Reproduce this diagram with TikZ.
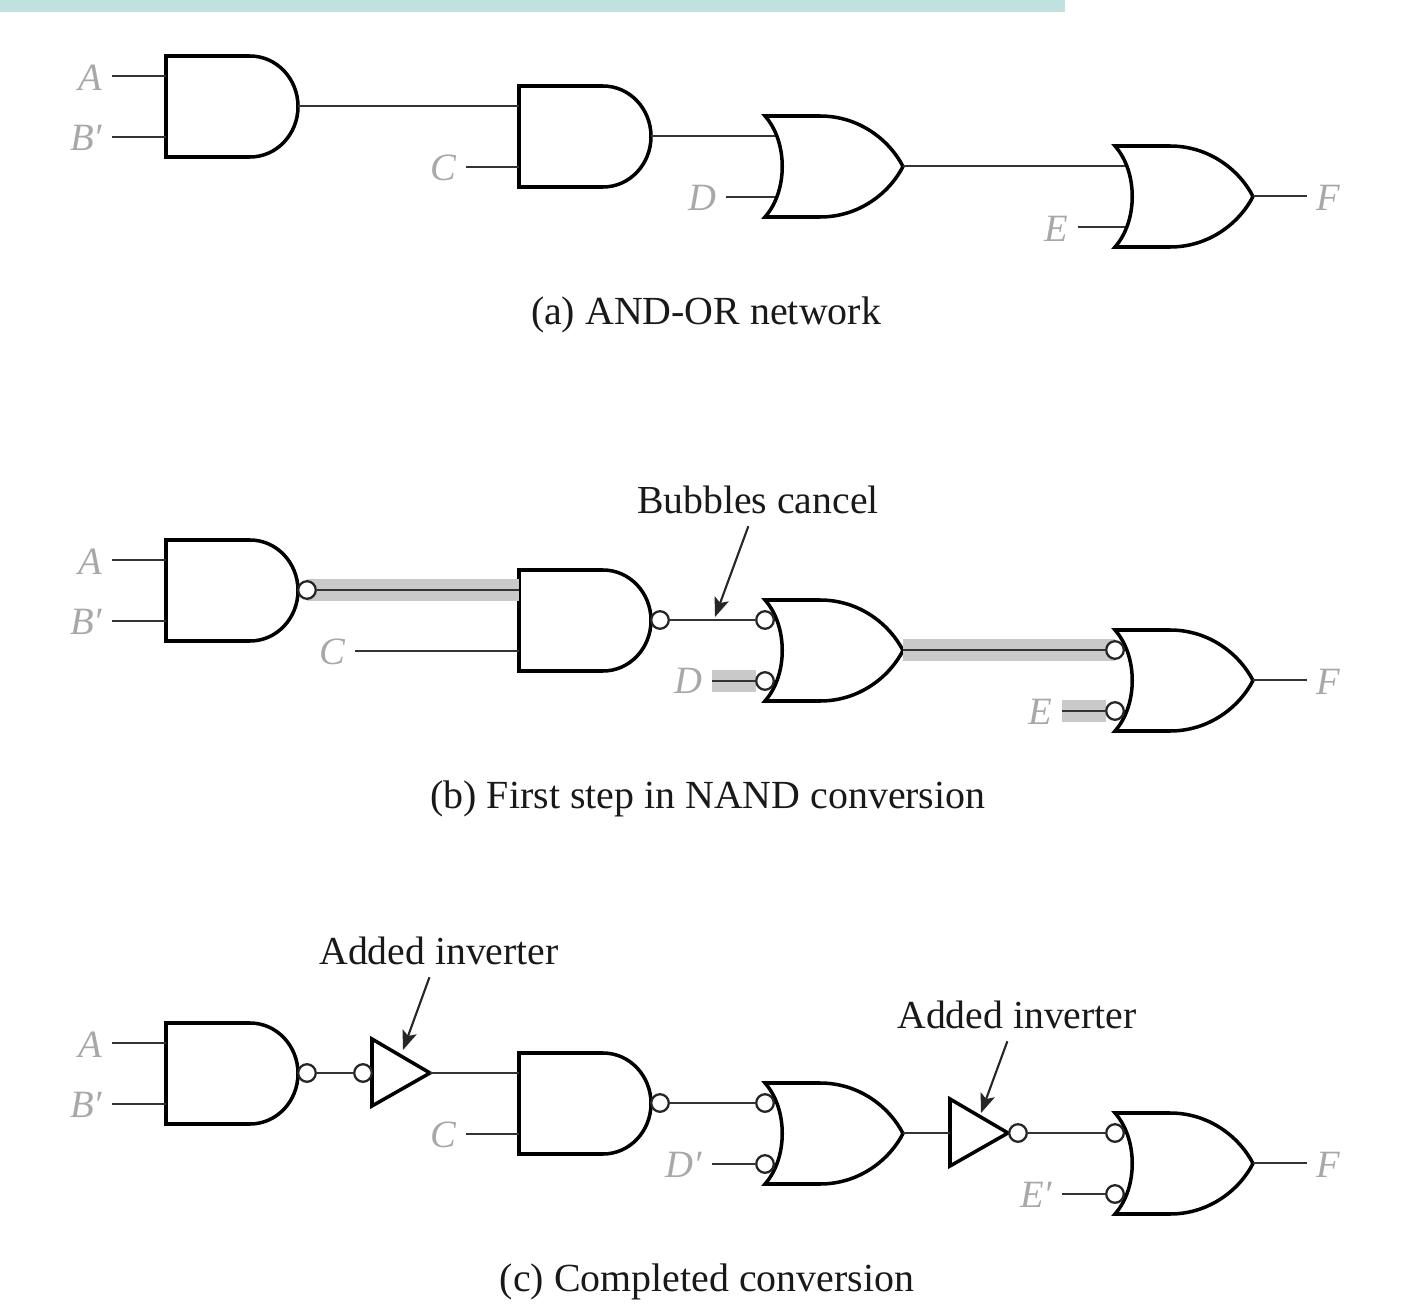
\documentclass[tikz,border=0pt]{standalone}
\usepackage{fontspec}
\setmainfont{Liberation Serif}
\usetikzlibrary{arrows.meta}
\definecolor{barcolor}{HTML}{C1E0E0}
\definecolor{sigcolor}{HTML}{A8A8A8}
\definecolor{bandcolor}{HTML}{C9C9C9}
\tikzset{
  gate/.style={line width=2pt,fill=white,draw=black},
  wire/.style={line width=1.7pt,draw=black!80},
  band/.style={line width=12.5pt,draw=bandcolor},
  bub/.style={circle,draw=black!85,fill=white,line width=1.3pt,minimum size=10pt,inner sep=0pt,outer sep=0pt},
  sig/.style={text=sigcolor,font=\fontsize{22}{26}\selectfont\itshape,inner xsep=5.5pt,inner ysep=2pt,outer sep=0pt},
  capt/.style={font=\fontsize{22.7}{26}\selectfont,text=black!90,inner sep=0pt},
  note/.style={font=\fontsize{22.6}{26}\selectfont,text=black!90,inner xsep=4pt,inner ysep=7pt,outer sep=0pt},
  pointer/.style={line width=1.2pt,draw=black!85,-{Stealth[length=11pt,width=8.5pt,inset=2.5pt]}},
  pics/andgate/.style={code={
    \draw[gate] (0,0) -- (84,0) .. controls (110.5,0) and (132,22.6) .. (132,50.5)
      .. controls (132,78.4) and (110.5,101) .. (84,101) -- (0,101) -- cycle;
    \coordinate (-a) at (0,20);
    \coordinate (-b) at (0,81);
    \coordinate (-out) at (132,50);
    \coordinate (-nout) at (141,50);
  }},
  pics/orgate/.style={code={
    \draw[gate] (0,0) -- (55,0) .. controls (95,0) and (125,25) .. (138,50.5)
      .. controls (125,76) and (95,101) .. (55,101) -- (0,101)
      .. controls (23,75) and (23,26) .. (0,0) -- cycle;
    \coordinate (-a) at (10,20);
    \coordinate (-b) at (10,81);
    \coordinate (-na) at (0,20);
    \coordinate (-nb) at (0,81);
    \coordinate (-out) at (138,50);
  }},
  pics/invgate/.style={code={
    \draw[gate] (0,0) -- (58,34) -- (0,67) -- cycle;
    \coordinate (-in) at (0,34);
    \coordinate (-out) at (58,34);
    \coordinate (-nin) at (-9,34);
    \coordinate (-nout) at (68,34);
  }}
}
\begin{document}
\begin{tikzpicture}[x=0.02cm,y=-0.02cm]
  \useasboundingbox (0,0) rectangle (1418,1308);
  \fill[barcolor] (0,0) rectangle (1065,12.5);

  \pic (a1) at (166,56) {andgate};
  \pic (a2) at (519,86) {andgate};
  \pic (a3) at (765,116) {orgate};
  \pic (a4) at (1115,146) {orgate};
  \node[sig,anchor=east] (aA) at (112,78) {A};
  \node[sig,anchor=east] (aB) at (112,138) {B′};
  \node[sig,anchor=east] (aC) at (466,168) {C};
  \node[sig,anchor=east] (aD) at (726,198) {D};
  \node[sig,anchor=east] (aE) at (1078,229) {E};
  \node[sig,anchor=west] (aF) at (1307,198) {F};
  \draw[wire] (aA.east |- a1-a) -- (a1-a);
  \draw[wire] (aB.east |- a1-b) -- (a1-b);
  \draw[wire] (a1-out) -- (a2-a);
  \draw[wire] (aC.east |- a2-b) -- (a2-b);
  \draw[wire] (a2-out) -- (a3-a);
  \draw[wire] (aD.east |- a3-b) -- (a3-b);
  \draw[wire] (a3-out) -- (a4-a);
  \draw[wire] (aE.east |- a4-b) -- (a4-b);
  \draw[wire] (a4-out) -- (aF.west |- a4-out);
  \node[capt] (acap) at (706,315) {(a) AND-OR network};

  \pic (b1) at (166,540) {andgate};
  \pic (b2) at (519,570) {andgate};
  \pic (b3) at (765,600) {orgate};
  \pic (b4) at (1115,630) {orgate};
  \node[sig,anchor=east] (bA) at (112,562) {A};
  \node[sig,anchor=east] (bB) at (112,622) {B′};
  \node[sig,anchor=east] (bC) at (355,652) {C};
  \node[sig,anchor=east] (bD) at (712,681) {D};
  \node[sig,anchor=east] (bE) at (1062,712) {E};
  \node[sig,anchor=west] (bF) at (1307,682) {F};
  \draw[band] (b1-nout) -- (b2-a);
  \draw[band] (b3-out) -- (b4-na);
  \draw[band,shorten >=5pt] (bD.east |- b3-nb) -- (b3-nb);
  \draw[band,shorten >=5pt] (bE.east |- b4-nb) -- (b4-nb);
  \node[bub] (bn1) at (b1-nout) {};
  \node[bub] (bn2) at (660,620) {};
  \node[bub] (bn3) at (b3-na) {};
  \node[bub] (bn4) at (b3-nb) {};
  \node[bub] (bn5) at (b4-na) {};
  \node[bub] (bn6) at (b4-nb) {};
  \draw[wire] (bA.east |- b1-a) -- (b1-a);
  \draw[wire] (bB.east |- b1-b) -- (b1-b);
  \draw[wire] (bn1) -- (b2-a);
  \draw[wire] (bC.east |- b2-b) -- (b2-b);
  \draw[wire] (bn2) -- (bn3);
  \draw[wire] (bD.east |- bn4) -- (bn4);
  \draw[wire] (b3-out) -- (bn5);
  \draw[wire] (bE.east |- bn6) -- (bn6);
  \draw[wire] (b4-out) -- (bF.west |- b4-out);
  \node[note] (bcancel) at (758,500) {Bubbles cancel};
  \coordinate (btip) at (715,617);
  \draw[pointer] (bcancel) -- (btip);
  \node[capt] (bcap) at (708,799) {(b) First step in NAND conversion};

  \pic (c1) at (166,1023) {andgate};
  \pic (c2) at (519,1053) {andgate};
  \pic (c3) at (765,1083) {orgate};
  \pic (c4) at (1115,1113) {orgate};
  \pic (i1) at (372,1039) {invgate};
  \pic (i2) at (950,1099) {invgate};
  \node[sig,anchor=east] (cA) at (112,1045) {A};
  \node[sig,anchor=east] (cB) at (112,1105) {B′};
  \node[sig,anchor=east] (cC) at (466,1135) {C};
  \node[sig,anchor=east] (cD) at (712,1165) {D′};
  \node[sig,anchor=east] (cE) at (1062,1195) {E′};
  \node[sig,anchor=west] (cF) at (1307,1165) {F};
  \node[bub] (cn1) at (c1-nout) {};
  \node[bub] (cn2) at (i1-nin) {};
  \node[bub] (cn3) at (660,1103) {};
  \node[bub] (cn4) at (c3-na) {};
  \node[bub] (cn5) at (c3-nb) {};
  \node[bub] (cn6) at (i2-nout) {};
  \node[bub] (cn7) at (c4-na) {};
  \node[bub] (cn8) at (c4-nb) {};
  \draw[wire] (cA.east |- c1-a) -- (c1-a);
  \draw[wire] (cB.east |- c1-b) -- (c1-b);
  \draw[wire] (cn1) -- (cn2);
  \draw[wire] (i1-out) -- (c2-a);
  \draw[wire] (cC.east |- c2-b) -- (c2-b);
  \draw[wire] (cn3) -- (cn4);
  \draw[wire] (cD.east |- cn5) -- (cn5);
  \draw[wire] (c3-out) -- (i2-in);
  \draw[wire] (cn6) -- (cn7);
  \draw[wire] (cE.east |- cn8) -- (cn8);
  \draw[wire] (c4-out) -- (cF.west |- c4-out);
  \node[note] (cadd1) at (439,951) {Added inverter};
  \coordinate (ctip1) at (403,1050);
  \draw[pointer] (cadd1) -- (ctip1);
  \node[note] (cadd2) at (1017,1015) {Added inverter};
  \coordinate (ctip2) at (981,1113);
  \draw[pointer] (cadd2) -- (ctip2);
  \node[capt] (ccap) at (707,1282) {(c) Completed conversion};
\end{tikzpicture}
\end{document}
